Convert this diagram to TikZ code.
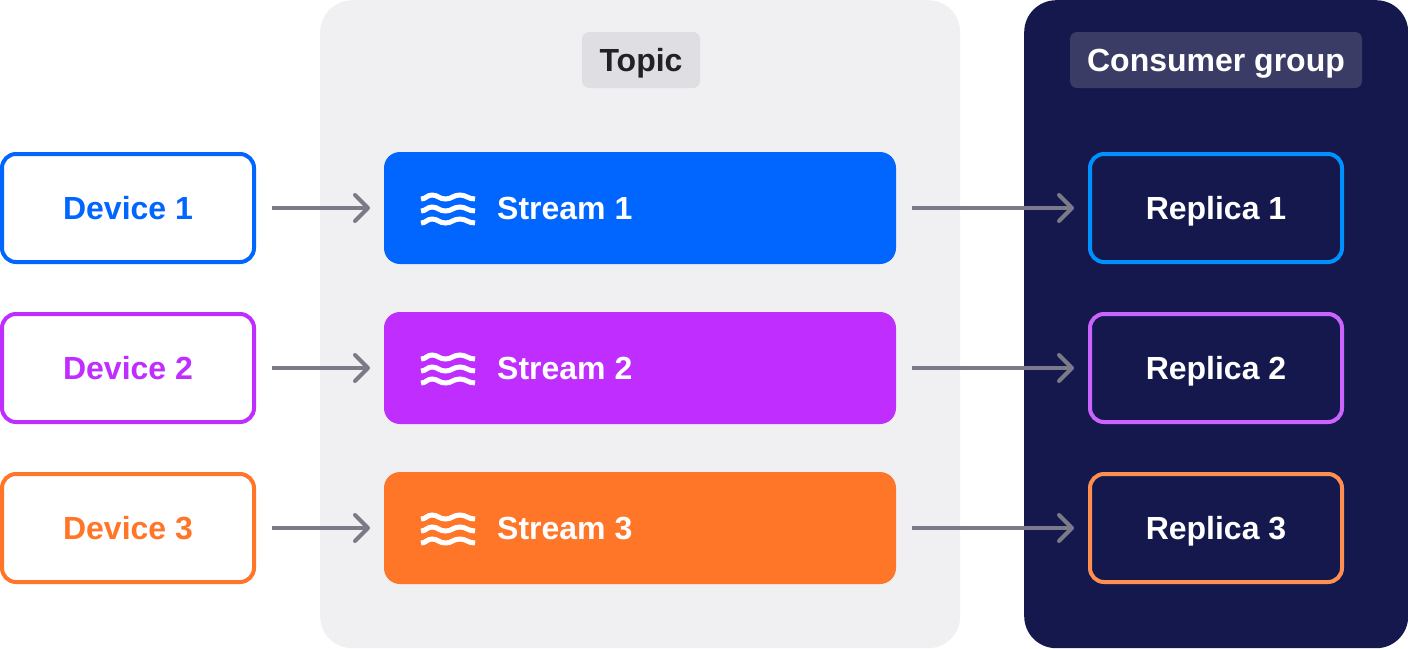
\documentclass[tikz,border=0pt]{standalone}
\usepackage{fontspec}
\setmainfont{Liberation Sans}[BoldFont={Liberation Sans Bold}]
\usetikzlibrary{arrows.meta, positioning}
\definecolor{blueOne}{HTML}{0066FF}
\definecolor{purpleOne}{HTML}{BF2EFF}
\definecolor{orangeOne}{HTML}{FF7629}
\definecolor{blueTwo}{HTML}{0090FF}
\definecolor{purpleTwo}{HTML}{CB63FF}
\definecolor{orangeTwo}{HTML}{FF8F50}
\definecolor{navy}{HTML}{14184D}
\definecolor{panelGray}{HTML}{F0F0F2}
\definecolor{tagGray}{HTML}{DFDFE3}
\definecolor{tagNavy}{HTML}{3A3C66}
\definecolor{inkDark}{HTML}{222226}
\definecolor{arrowGray}{HTML}{7C7A88}
\newcommand{\wavesicon}[1]{%
  \draw [white, line width=5pt, xshift=421pt, yshift=#1]
    (0,-2) .. controls (5,-2) and (6,2) .. (11,2) .. controls (17,2) and (18,-2) .. (24.5,-2)
    .. controls (31,-2) and (32,2) .. (39,2) .. controls (45,2) and (47,-2) .. (54,-2);}

\begin{document}
\begin{tikzpicture}[x=1pt, y=1pt, node distance=48pt, >={Straight Barb[length=13pt,width=26pt,round]}]
        % Estilos
        \tikzstyle{panel} = [rectangle, rounded corners=32pt, inner sep=0pt, anchor=north west]
        \tikzstyle{label text} = [text height=23pt, text depth=0pt, font=\fontsize{32}{32}\selectfont\bfseries]
        \tikzstyle{tag} = [label text, rectangle, rounded corners=7pt, minimum height=56pt, inner sep=0pt]
        \tikzstyle{device} = [label text, draw, fill=white, rectangle, rounded corners=14pt, line width=4pt, minimum width=252pt, minimum height=108pt, inner sep=0pt]
        \tikzstyle{stream} = [rectangle, rounded corners=16pt, minimum width=512pt, minimum height=112pt, inner sep=0pt, outer sep=0pt]
        \tikzstyle{streamText} = [label text, text=white, inner sep=0pt, anchor=west]
        \tikzstyle{replica} = [device, fill=navy, text=white]
        \tikzstyle{link} = [->, arrowGray, line width=4pt, shorten <=16pt, shorten >=14pt]

        \useasboundingbox (0,0) rectangle (1408,-648);

        % Paneles
        \node [panel, fill=panelGray, minimum width=640pt, minimum height=648pt] (topicPanel) at (320,0) {};
        \node [panel, fill=navy, minimum width=384pt, minimum height=648pt] (groupPanel) at (1024,0) {};
        \node [tag, fill=tagGray, text=inkDark, minimum width=118pt] (topicTag) at (641,-60) {Topic};
        \node [tag, fill=tagNavy, text=white, minimum width=292pt] (groupTag) at (1216,-60) {Consumer group};

        % Nodos
        \node [device, draw=blueOne, text=blueOne] (device1) at (128,-208) {Device 1};
        \node [device, draw=purpleOne, text=purpleOne, on grid, below=160pt of device1] (device2) {Device 2};
        \node [device, draw=orangeOne, text=orangeOne, on grid, below=160pt of device2] (device3) {Device 3};
        \node [stream, fill=blueOne] (stream1) at (640,-208) {};
        \node [stream, fill=purpleOne, on grid, below=160pt of stream1] (stream2) {};
        \node [stream, fill=orangeOne, on grid, below=160pt of stream2] (stream3) {};
        \node [streamText, on grid, right=113pt of stream1.west] (streamText1) {Stream 1};
        \node [streamText, on grid, right=113pt of stream2.west] (streamText2) {Stream 2};
        \node [streamText, on grid, right=113pt of stream3.west] (streamText3) {Stream 3};
        \node [replica, draw=blueTwo] (replica1) at (1216,-208) {Replica 1};
        \node [replica, draw=purpleTwo, on grid, below=160pt of replica1] (replica2) {Replica 2};
        \node [replica, draw=orangeTwo, on grid, below=160pt of replica2] (replica3) {Replica 3};

        % Iconos
        \wavesicon{-197pt}
        \wavesicon{-209pt}
        \wavesicon{-221pt}
        \wavesicon{-357pt}
        \wavesicon{-369pt}
        \wavesicon{-381pt}
        \wavesicon{-517pt}
        \wavesicon{-529pt}
        \wavesicon{-541pt}

        % Conexiones
        \draw [link] (device1) -- (stream1);
        \draw [link] (device2) -- (stream2);
        \draw [link] (device3) -- (stream3);
        \draw [link] (stream1) -- (replica1);
        \draw [link] (stream2) -- (replica2);
        \draw [link] (stream3) -- (replica3);
\end{tikzpicture}
\end{document}
